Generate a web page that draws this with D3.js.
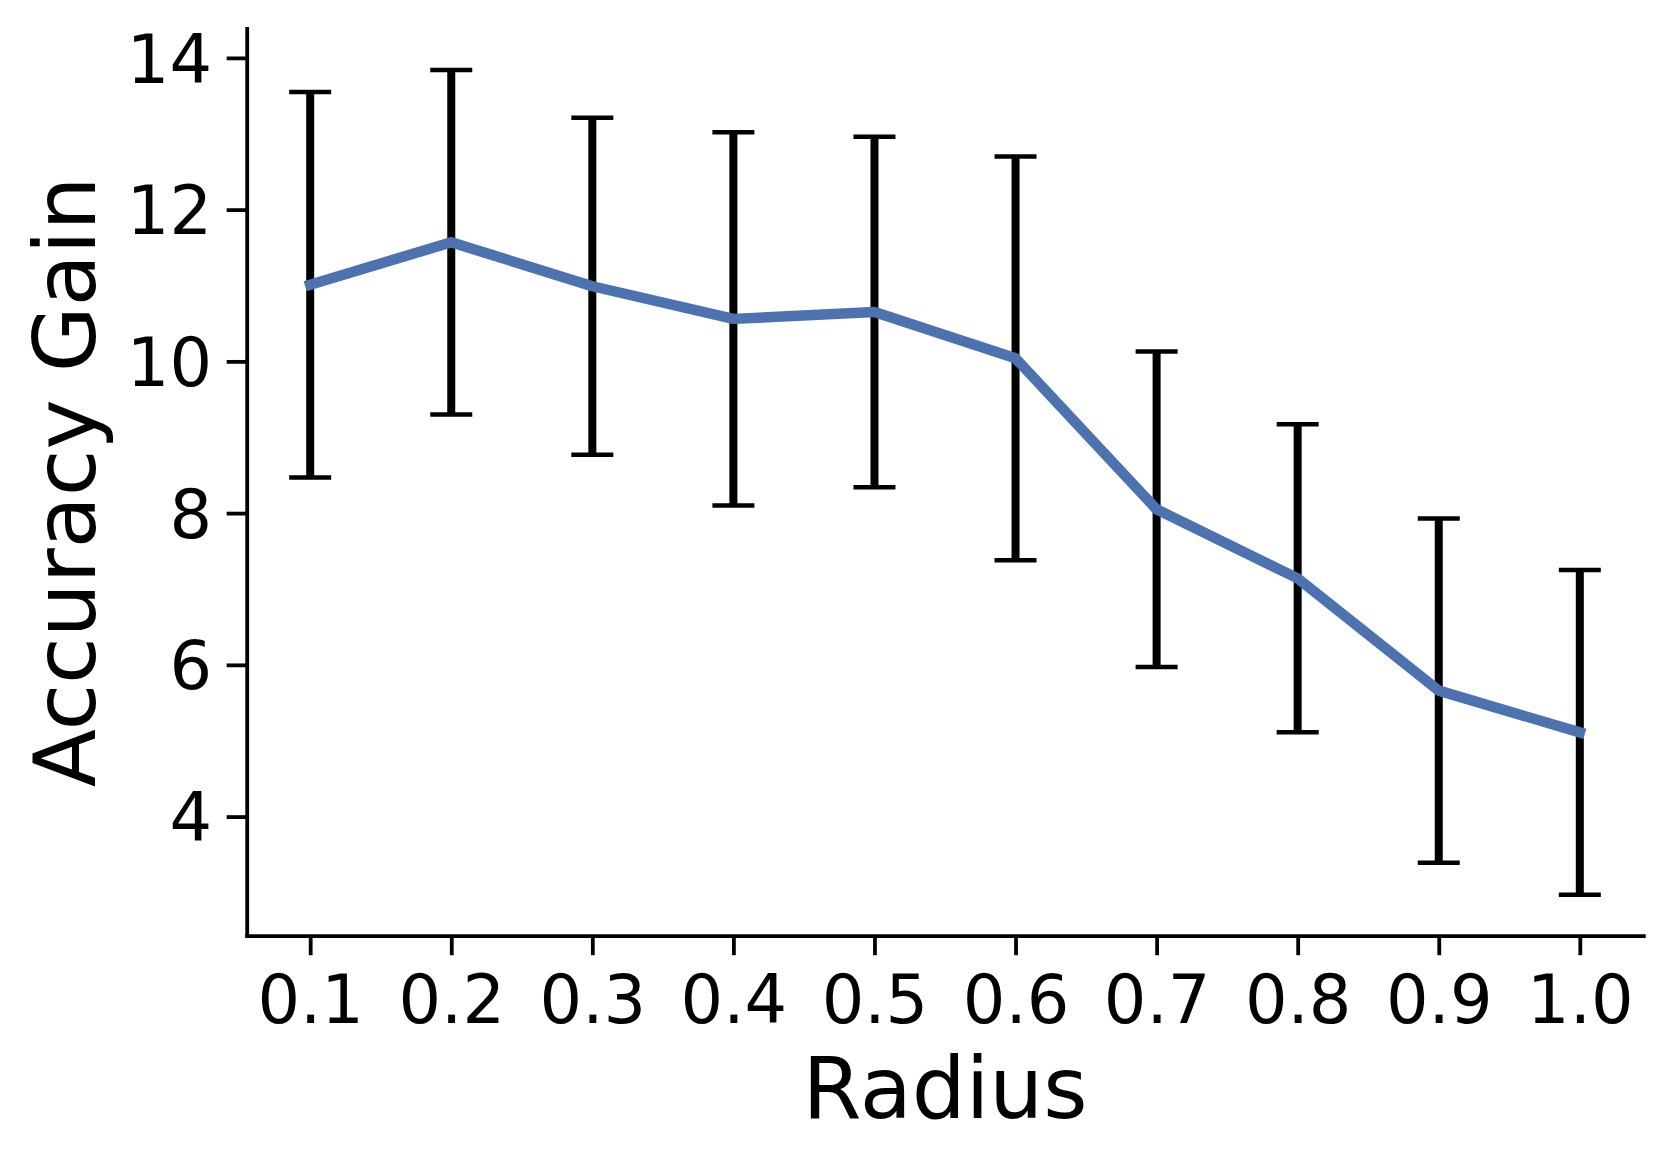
<!DOCTYPE html>
<html>
<head>
<meta charset="utf-8">
<script src="https://cdn.jsdelivr.net/npm/d3@7"></script>
<style>
  html, body { margin: 0; padding: 0; background: #ffffff; }
  svg { display: block; font-family: "DejaVu Sans", sans-serif; }
</style>
</head>
<body>
<div id="chart"></div>
<script>
  // =====================================================
  // DATA
  // =====================================================

  const radius = [0.1, 0.2, 0.3, 0.4, 0.5, 0.6, 0.7, 0.8, 0.9, 1.0];
  const gainMean = [11.01, 11.57, 10.99, 10.56, 10.65, 10.04, 8.05, 7.14, 5.66, 5.11];
  const gainErr = [2.54, 2.27, 2.22, 2.46, 2.31, 2.66, 2.08, 2.03, 2.27, 2.14];

  const xTicks = [0.1, 0.2, 0.3, 0.4, 0.5, 0.6, 0.7, 0.8, 0.9, 1.0];
  const yTicks = [4, 6, 8, 10, 12, 14];
  const xDomain = [0.055, 1.045];
  const yDomain = [2.43, 14.39];

  // =====================================================
  // LAYOUT
  // =====================================================

  const width = 1672;
  const height = 1164;
  const plot = { left: 246.7, right: 1643.3, top: 28.3, bottom: 935.7 };

  const svg = d3
    .select("#chart")
    .append("svg")
    .attr("width", width)
    .attr("height", height)
    .style("background", "#ffffff");

  const x = d3.scaleLinear().domain(xDomain).range([plot.left, plot.right]);
  const y = d3.scaleLinear().domain(yDomain).range([plot.bottom, plot.top]);

  const points = radius.map((r, i) => ({ r: r, m: gainMean[i], e: gainErr[i] }));

  // =====================================================
  // ERROR BARS
  // =====================================================

  const bars = svg.append("g").attr("class", "errorbars");

  bars
    .selectAll("line.bar")
    .data(points)
    .enter()
    .append("line")
    .attr("class", "bar")
    .attr("x1", (d) => x(d.r))
    .attr("x2", (d) => x(d.r))
    .attr("y1", (d) => y(d.m - d.e))
    .attr("y2", (d) => y(d.m + d.e))
    .style("stroke", "#000000")
    .style("stroke-width", "8px");

  const capHalf = 21;
  const caps = points.flatMap((d) => [
    { r: d.r, v: d.m + d.e },
    { r: d.r, v: d.m - d.e },
  ]);

  bars
    .selectAll("line.cap")
    .data(caps)
    .enter()
    .append("line")
    .attr("class", "cap")
    .attr("x1", (d) => x(d.r) - capHalf)
    .attr("x2", (d) => x(d.r) + capHalf)
    .attr("y1", (d) => y(d.v))
    .attr("y2", (d) => y(d.v))
    .style("stroke", "#000000")
    .style("stroke-width", "4.5px");

  // =====================================================
  // MEAN LINE
  // =====================================================

  const line = d3
    .line()
    .x((d) => x(d.r))
    .y((d) => y(d.m));

  svg
    .append("path")
    .datum(points)
    .attr("d", line)
    .style("fill", "none")
    .style("stroke", "#4c72b0")
    .style("stroke-width", "10.5px")
    .style("stroke-linejoin", "round")
    .style("stroke-linecap", "square");

  // =====================================================
  // AXES
  // =====================================================

  const xAxis = svg
    .append("g")
    .attr("transform", `translate(0,${plot.bottom})`)
    .call(
      d3
        .axisBottom(x)
        .tickValues(xTicks)
        .tickFormat(d3.format(".1f"))
        .tickSize(19.5)
        .tickSizeOuter(0),
    );

  const yAxis = svg
    .append("g")
    .attr("transform", `translate(${plot.left},0)`)
    .call(
      d3
        .axisLeft(y)
        .tickValues(yTicks)
        .tickFormat(d3.format("d"))
        .tickSize(20)
        .tickSizeOuter(0)
        .tickPadding(14.6),
    );

  [xAxis, yAxis].forEach((g) => {
    g.select(".domain")
      .style("stroke", "#000000")
      .style("stroke-width", "3.8px")
      .style("stroke-linecap", "square");
    g.selectAll(".tick line")
      .style("stroke", "#000000")
      .style("stroke-width", "3.8px");
    g.selectAll(".tick text")
      .style("fill", "#000000")
      .style("font-family", "'DejaVu Sans', sans-serif")
      .style("font-size", "67px");
  });

  xAxis.selectAll(".tick text").attr("y", 87.6).attr("dy", "0");
  yAxis.selectAll(".tick text").attr("dy", "0.36em");

  // =====================================================
  // AXIS LABELS
  // =====================================================

  svg
    .append("text")
    .attr("x", (plot.left + plot.right) / 2)
    .attr("y", 1118.3)
    .attr("text-anchor", "middle")
    .style("font-size", "85px")
    .style("fill", "#000000")
    .text("Radius");

  svg
    .append("text")
    .attr("transform", `translate(95,${(plot.top + plot.bottom) / 2}) rotate(-90)`)
    .attr("text-anchor", "middle")
    .style("font-size", "85px")
    .style("fill", "#000000")
    .text("Accuracy Gain");
</script>
</body>
</html>
